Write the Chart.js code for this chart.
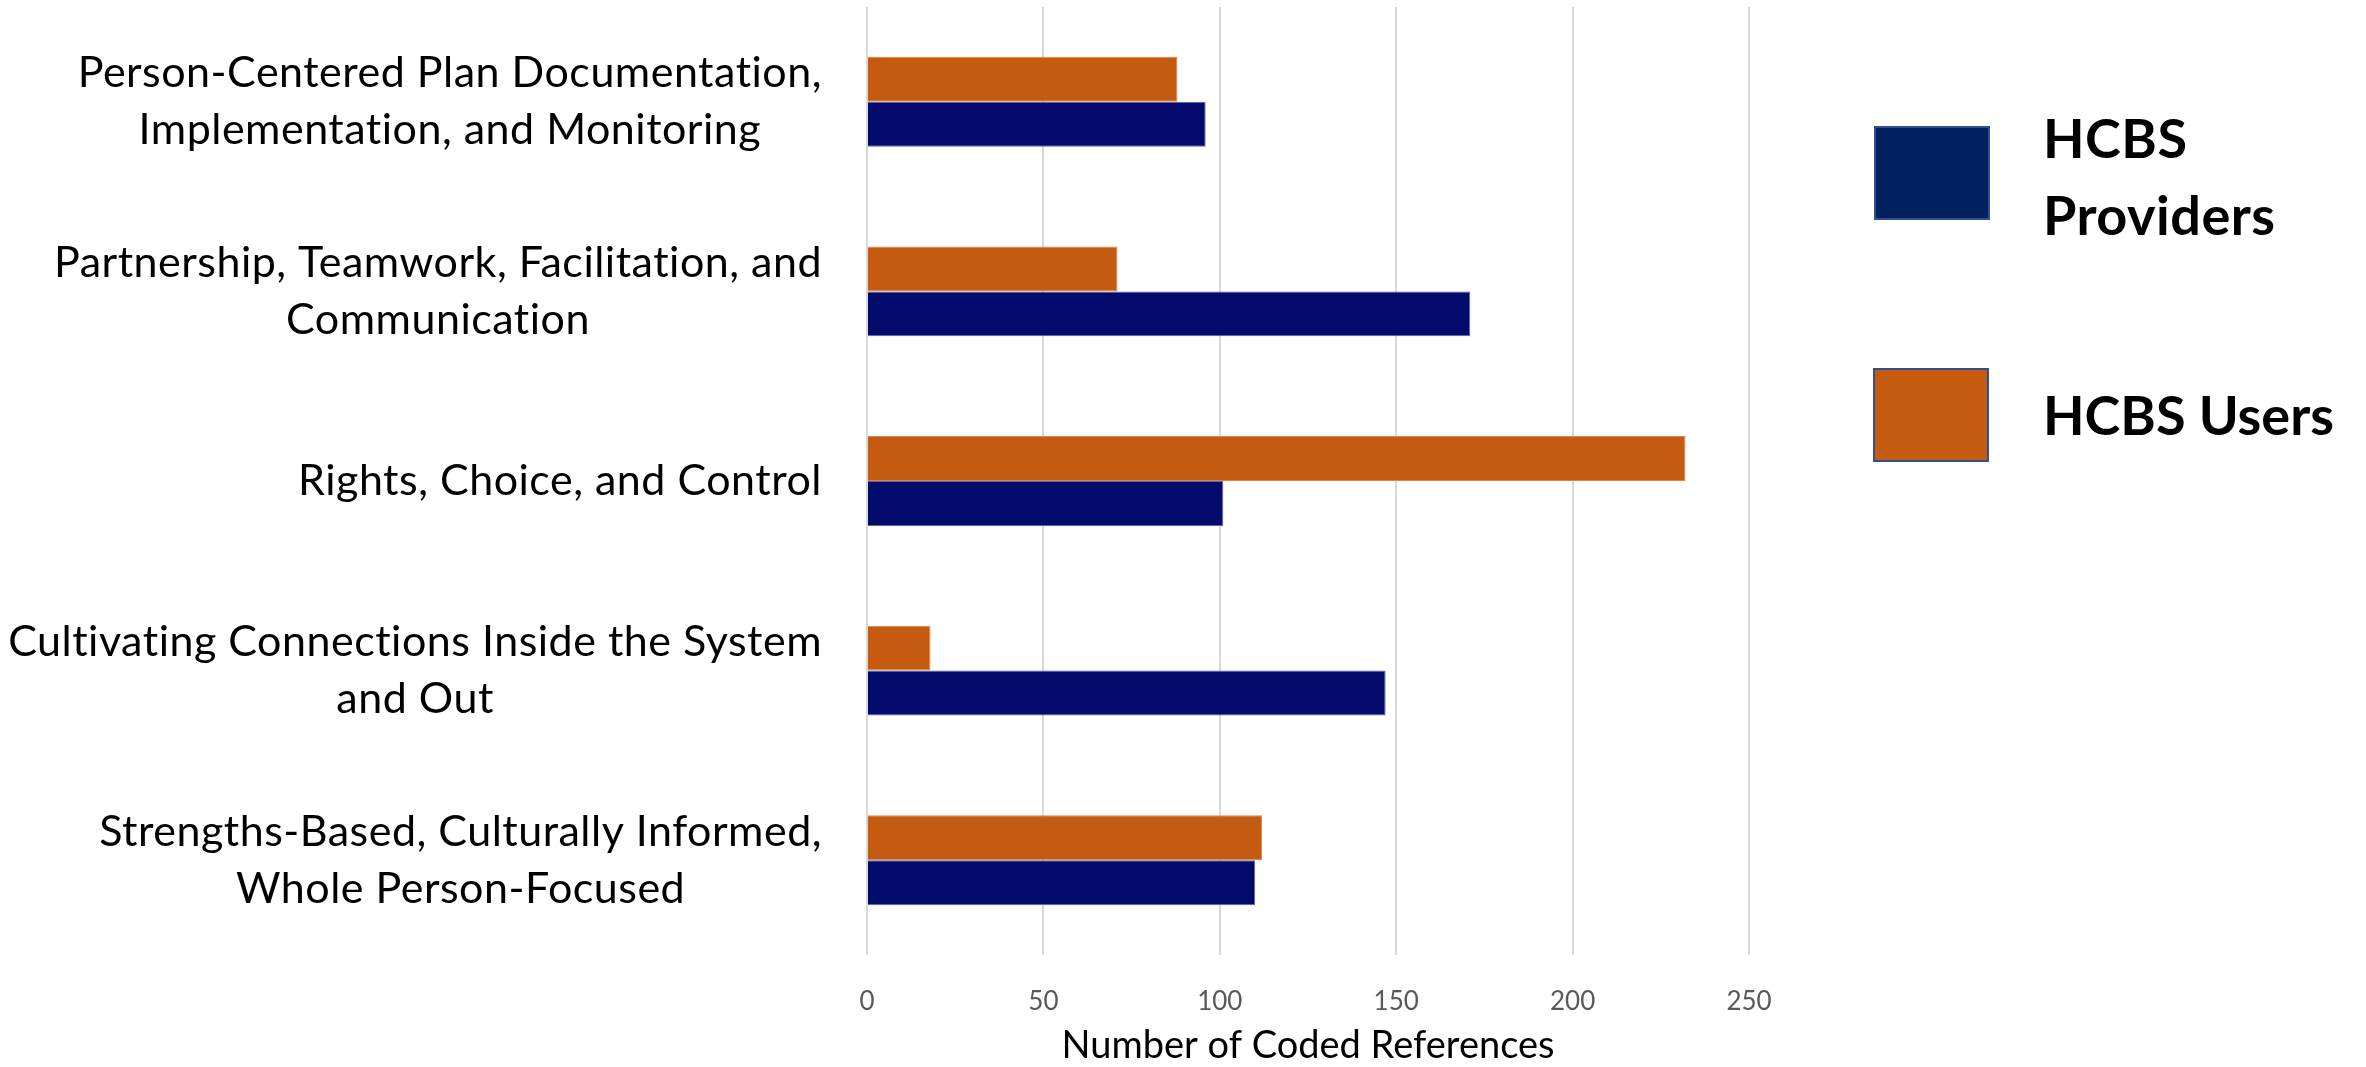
<!DOCTYPE html>
<html>
<head>
<meta charset="utf-8">
<script src="https://cdn.jsdelivr.net/npm/chart.js@4"></script>
<style>
  html, body { margin: 0; padding: 0; background: #fff; }
  #wrap { position: relative; width: 2366px; height: 1067px; }
  .key { position: absolute; box-sizing: border-box; border: 2px solid #2F528F; }
  .keytext { position: absolute; font-family: Lato, sans-serif; font-weight: bold; font-size: 54px; line-height: 77px; color: #000; }
</style>
</head>
<body>
<div id="wrap">
  <canvas id="chart" width="2366" height="1067"></canvas>
  <div class="key" style="left:1874px; top:126px; width:116px; height:94px; background:#002060;"></div>
  <div class="keytext" style="left:2043px; top:99px; letter-spacing:0.5px;">HCBS<br>Providers</div>
  <div class="key" style="left:1873px; top:368px; width:116px; height:94px; background:#C55A11;"></div>
  <div class="keytext" style="left:2043px; top:376px;">HCBS Users</div>
</div>
<script>
// categories (top to bottom), split into display lines
const categories = [
    ['Person-Centered Plan Documentation,', 'Implementation, and Monitoring'],
    ['Partnership, Teamwork, Facilitation, and', 'Communication'],
    ['Rights, Choice, and Control'],
    ['Cultivating Connections Inside the System', 'and Out'],
    ['Strengths-Based, Culturally Informed,', 'Whole Person-Focused']
];
const providers = [96, 171, 101, 147, 110];
const users = [88, 71, 232, 18, 112];
const xMax = 250;
const xStep = 50;

// y labels: each block right aligned to the axis, lines centred within the block
const categoryLabels = {
    id: 'categoryLabels',
    afterDraw(chart) {
        const ctx = chart.ctx;
        const yScale = chart.scales.y;
        const right = chart.chartArea.left - 45;
        const lineH = 57;
        ctx.save();
        ctx.font = '43px Lato, sans-serif';
        ctx.letterSpacing = '0.5px';
        ctx.fillStyle = '#000';
        ctx.textAlign = 'center';
        ctx.textBaseline = 'middle';
        categories.forEach((lines, i) => {
            const y = yScale.getPixelForTick(i);
            const widest = Math.max(...lines.map(l => ctx.measureText(l).width));
            const cx = right - widest / 2;
            lines.forEach((line, j) => {
                ctx.fillText(line, cx, y + (j - (lines.length - 1) / 2) * lineH);
            });
        });
        ctx.restore();
    }
};

new Chart(document.getElementById('chart'), {
    type: 'bar',
    data: {
        labels: categories,
        datasets: [{
            label: 'HCBS Users',
            data: users,
            backgroundColor: '#C55A11',
            borderColor: '#D8864F',
            borderWidth: 1
        }, {
            label: 'HCBS Providers',
            data: providers,
            backgroundColor: '#020B6B',
            borderColor: '#5A62A8',
            borderWidth: 1
        }]
    },
    options: {
        indexAxis: 'y',
        responsive: false,
        devicePixelRatio: 1,
        animation: false,
        datasets: {
            bar: { categoryPercentage: 0.474, barPercentage: 1.0 }
        },
        layout: {
            padding: { top: 7, right: 617, left: 0, bottom: 0 }
        },
        plugins: {
            legend: { display: false },
            tooltip: { enabled: false }
        },
        scales: {
            x: {
                min: 0,
                max: xMax,
                afterFit: (s) => { s.height = 112; },
                border: { display: false },
                grid: { color: '#D9D9D9', lineWidth: 2, drawTicks: false },
                ticks: {
                    stepSize: xStep,
                    padding: 31,
                    color: '#595959',
                    font: { family: 'Lato, sans-serif', size: 26 }
                },
                title: {
                    display: true,
                    text: 'Number of Coded References',
                    color: '#000',
                    font: { family: 'Lato, sans-serif', size: 38, lineHeight: 0.9 },
                    padding: { top: 0, bottom: 4 }
                }
            },
            y: {
                afterFit: (s) => { s.width = 867; },
                border: { display: false },
                grid: { display: false },
                ticks: { display: false }
            }
        }
    },
    plugins: [categoryLabels]
});
</script>
</body>
</html>
